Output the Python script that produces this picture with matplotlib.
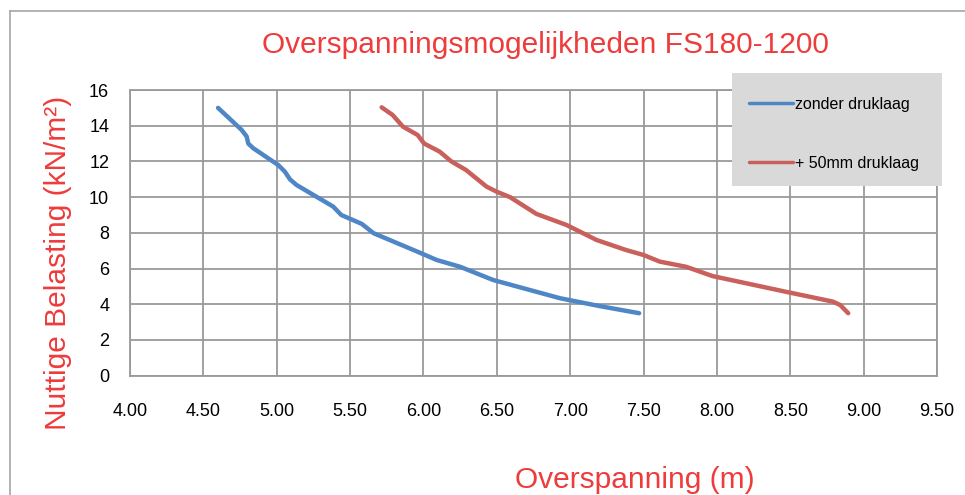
import matplotlib
matplotlib.use('Agg')
import matplotlib.pyplot as plt
from matplotlib.patches import Rectangle
from matplotlib.lines import Line2D

plt.rcParams['font.family'] = ['Liberation Sans', 'DejaVu Sans']

# zonder druklaag
zonder_x = [4.60, 4.76, 4.795, 4.806, 4.84, 5.01, 5.055, 5.09, 5.135, 5.385, 5.44,
            5.58, 5.66, 5.975, 6.09, 6.25, 6.475, 6.93, 7.20, 7.47]
zonder_y = [15.0, 13.77, 13.4, 13.0, 12.74, 11.8, 11.43, 11.0, 10.68, 9.47, 9.0,
            8.5, 7.98, 6.89, 6.48, 6.1, 5.36, 4.34, 3.9, 3.5]

# + 50mm druklaag
druk_x = [5.715, 5.79, 5.86, 5.96, 6.005, 6.11, 6.19, 6.29, 6.43, 6.50, 6.59, 6.77,
          6.975, 7.18, 7.38, 7.50, 7.61, 7.79, 7.97, 8.47, 8.79, 8.84, 8.895]
druk_y = [15.03, 14.6, 13.95, 13.48, 13.0, 12.55, 12.0, 11.52, 10.59, 10.3, 10.0, 9.06,
          8.44, 7.6, 7.04, 6.76, 6.39, 6.1, 5.58, 4.7, 4.15, 3.96, 3.5]

xticks = [4.0, 4.5, 5.0, 5.5, 6.0, 6.5, 7.0, 7.5, 8.0, 8.5, 9.0, 9.5]
yticks = [0, 2, 4, 6, 8, 10, 12, 14, 16]

rood = '#EE3B3B'
blauw = '#4F86C6'
rood_lijn = '#C9605C'

W, H = 965, 495
fig = plt.figure(figsize=(W / 100, H / 100), dpi=100)

# buitenrand van de grafiek
fig.add_artist(Line2D([10 / W, 10 / W], [0, 1 - 11 / H], color='#a6a6a6', lw=1.2))
fig.add_artist(Line2D([10 / W, 1], [1 - 11 / H, 1 - 11 / H], color='#a6a6a6', lw=1.2))

ax = fig.add_axes([130 / W, 1 - 375.7 / H, 807 / W, 285.7 / H])
ax.plot(zonder_x, zonder_y, color=blauw, lw=3.2, solid_capstyle='round', label='zonder druklaag')
ax.plot(druk_x, druk_y, color=rood_lijn, lw=3.2, solid_capstyle='round', label='+ 50mm druklaag')

ax.set_xlim(4.0, 9.5)
ax.set_ylim(0, 16)
ax.set_xticks(xticks)
ax.set_xticklabels(['%.2f' % v for v in xticks])
ax.set_yticks(yticks)
ax.grid(True, color='#9a9a9a', lw=1.3)
ax.set_axisbelow(True)
for s in ax.spines.values():
    s.set_color('#9a9a9a')
    s.set_linewidth(1.3)
ax.tick_params(length=0, labelsize=13)
ax.tick_params(axis='x', pad=20)
ax.tick_params(axis='y', pad=15)

fig.text(545 / W, 1 - 45 / H, 'Overspanningsmogelijkheden FS180-1200', color=rood,
         fontsize=21.5, ha='center', va='center')
fig.text(58 / W, 1 - 263 / H, 'Nuttige Belasting (kN/m²)', color=rood,
         fontsize=21.5, ha='center', va='center', rotation=90)
fig.text(635 / W, 1 - 480 / H, 'Overspanning (m)', color=rood,
         fontsize=21.5, ha='center', va='center')

# legenda
ax.add_patch(Rectangle((732 / W, 1 - 186 / H), 210 / W, 113 / H, transform=fig.transFigure,
                       facecolor='#d9d9d9', edgecolor='none', zorder=5, clip_on=False))
leg = ax.legend(loc='upper left', bbox_to_anchor=(736 / W, 1 - 84 / H), bbox_transform=fig.transFigure,
                frameon=False, fontsize=11.5, handlelength=2.8, handletextpad=0.1,
                labelspacing=2.75, borderpad=0.3)
leg.set_zorder(6)
for l in leg.get_lines():
    l.set_linewidth(2.5)

fig.savefig('out.png', dpi=100)
